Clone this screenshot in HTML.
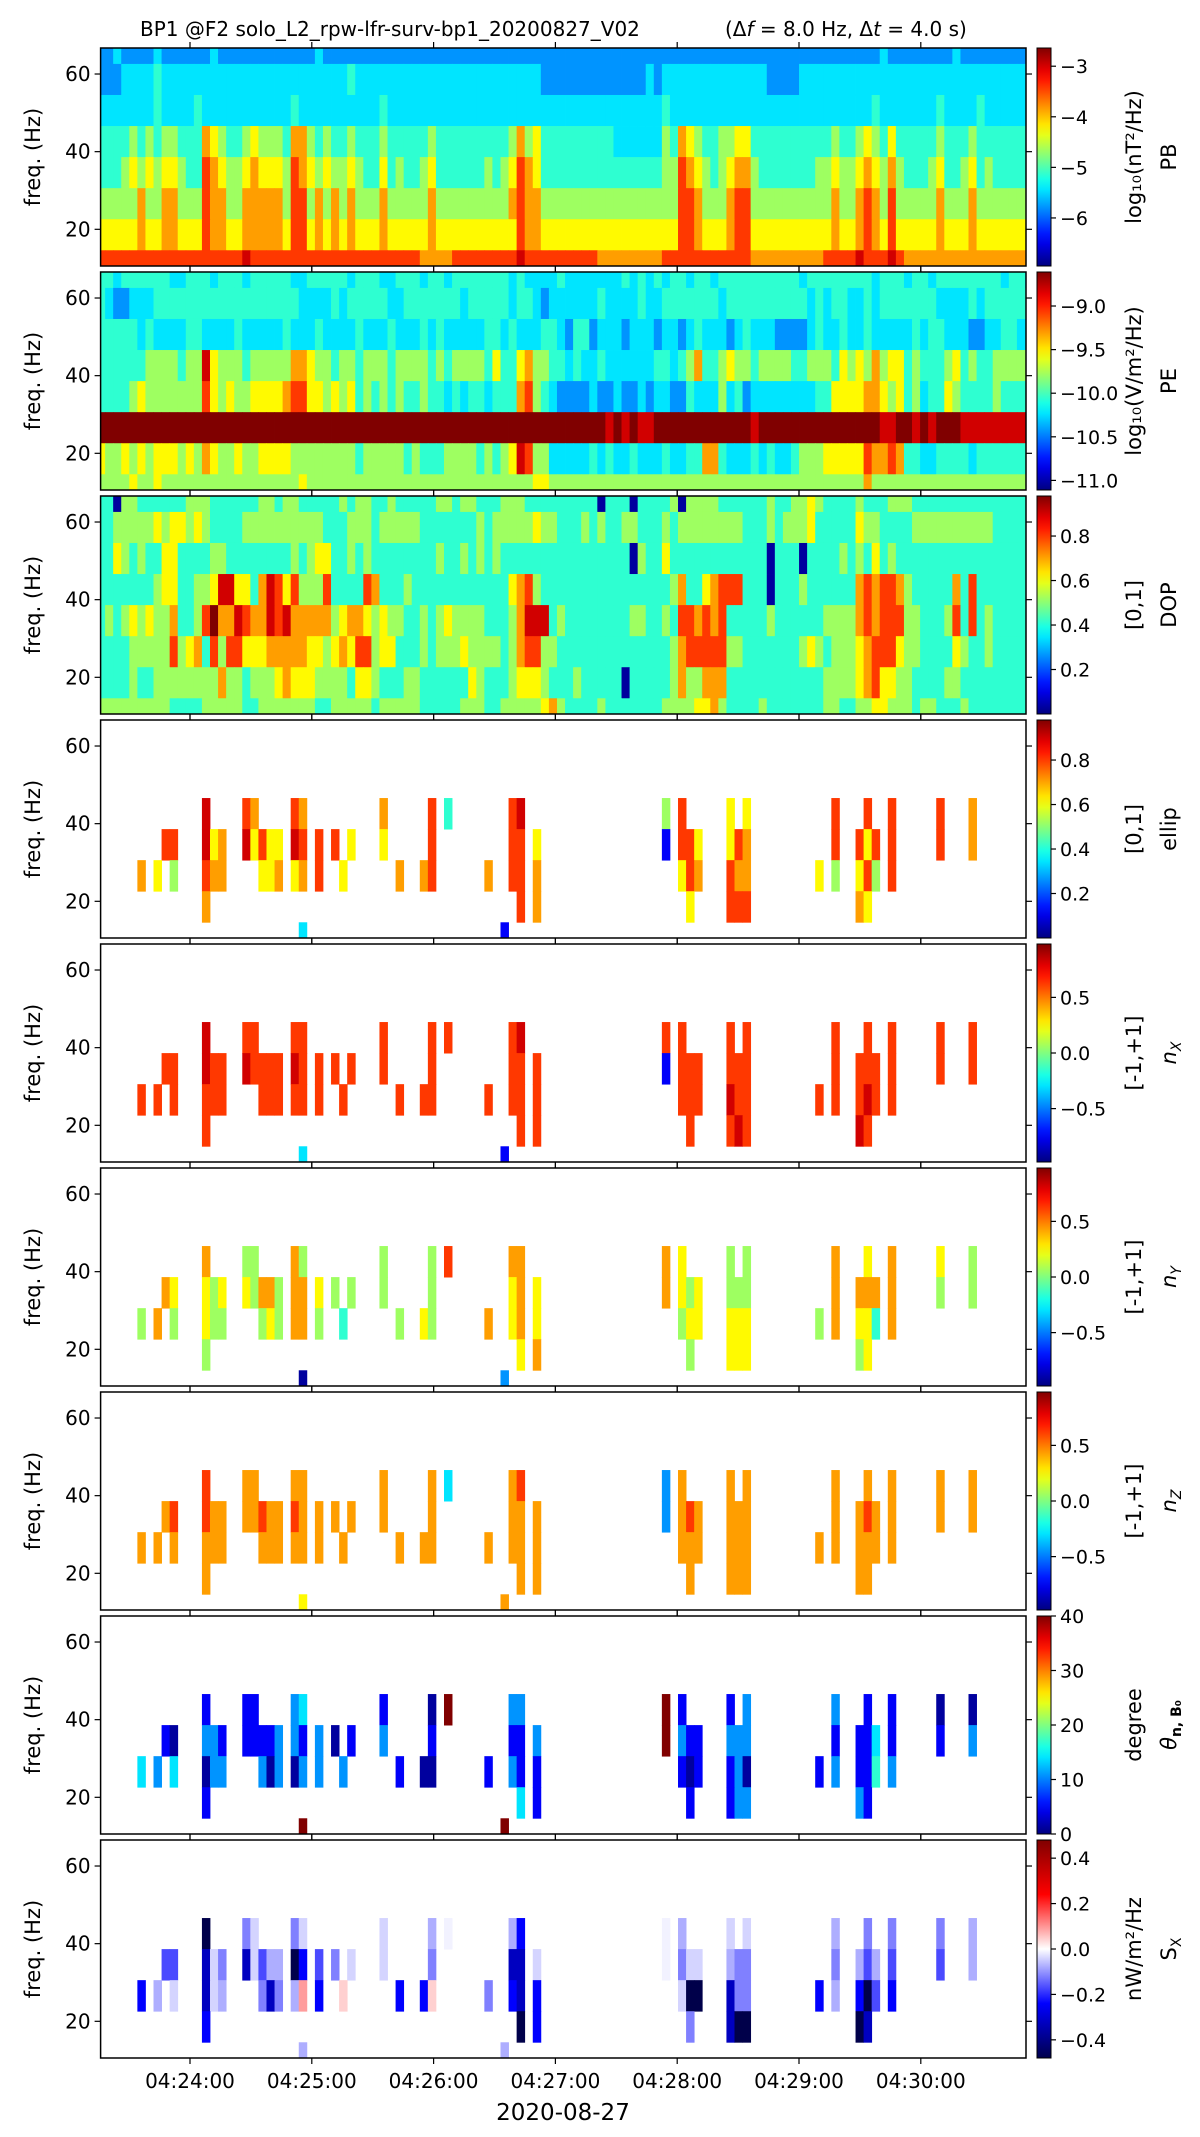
<!DOCTYPE html>
<html><head><meta charset="utf-8">
<style>
html,body{margin:0;padding:0;background:#fff;}
svg{display:block;font-family:"DejaVu Sans","Liberation Sans",sans-serif;}
</style></head>
<body>
<svg id="fig" width="1200" height="2137" viewBox="0 0 1200 2137" xmlns="http://www.w3.org/2000/svg">
<rect x="0" y="0" width="1200" height="2137" fill="#fff"/>
<text x="140" y="36" font-size="20" fill="#000">BP1 @F2 solo_L2_rpw-lfr-surv-bp1_20200827_V02</text>
<text x="725" y="36" font-size="20" fill="#000">(Δ<tspan font-style="italic">f</tspan> = 8.0 Hz, Δ<tspan font-style="italic">t</tspan> = 4.0 s)</text>
<g id="panels"></g>
<text x="563" y="2120" font-size="23" text-anchor="middle">2020-08-27</text>
</svg>
<script>
// ---------- data ----------
const freqEdges = [10.55,14.6,22.6,30.6,38.6,46.6,54.6,62.6,66.7];
const timeTickSeconds = [0,60,120,180,240,300,360];
const timeTickLabels = ["04:24:00","04:25:00","04:26:00","04:27:00","04:28:00","04:29:00","04:30:00"];
const freqTicks = [20,40,60];
const colStartSec = -45.8;
const colDurSec = 3.975;

// rows listed top (highest freq) to bottom; digit = colormap level, '.' = no data
const pbRows = [
"2232222322 2222322222 2222222322 2222222222 2222222222 2222222222 2222222222 2222222222 2222222222 2222222322 2222223222 222222",
"2223333433 3333333333 3333333333 3433333333 3333333333 3333322222 2222222232 3333333333 3332222333 3333333333 3333333333 333333",
"3333333433 3343333333 3333433333 3333343333 3333333333 3333333333 3333333333 4333333333 3333333333 3333334333 3333433334 333333",
"4444545455 4447654456 5554775454 4544454444 4544444444 4575644444 4444333333 5476544556 6444444444 4544565464 4444544454 444444",
"4445656566 5448765567 6665876565 5654464544 5644444454 5687644444 4444444444 5587654567 7544444445 5655676575 4445644564 544444",
"5555575577 5558775577 7775885757 5755575555 5755555555 5787755555 5555555555 5588755578 8555555555 5755787585 5555755575 555555",
"6666676677 6668776677 7776886767 6766676666 6766666666 6687766666 6666666666 6688766678 8666666666 6766787686 6666766676 666666",
"8888888888 8888888898 8888888888 8888888888 7777888888 8898888888 8877777777 8888888888 8777777777 8888988898 7777777777 777777"];
const peRows = [
"4434444443 3444344434 4444334444 4344433444 3443444444 4343333433 3333343434 3443443444 4444444344 4444443444 3443444444 443443",
"4322333444 4444444444 4444433334 3444443344 4444434444 4344323333 3343333433 4444444344 4444444434 3443343444 4444333343 444444",
"4444434333 3443333433 3334333433 3343334333 4343333344 3433344324 4233323332 3323433323 4333222234 3343343333 3434433322 334433",
"4444445555 4559655545 5555776554 5545554555 5454555546 4467554434 3343333334 4345744565 5455554455 5465657566 4544456454 455555",
"4444565555 5558656556 6667886656 5645454544 5443434434 4478543222 2322322323 3224333534 2333333334 4666677656 4534465444 454444",
"XXXXXXXXXX XXXXXXXXXX XXXXXXXXXX XXXXXXXXXX XXXXXXXXXX XXXXXXXXXX XXX9X9X99X XXXXXXXXXX X9XXXXXXXX XXXXXXX99X X9X9XXX999 999999",
"6556565666 5657655655 6666555555 5545555545 4445555454 5698553333 3434334333 4334477433 3434334555 6666687787 4433444434 444444",
"5555655655 5555555555 5555565555 5555555555 5555555555 5555665555 5555555555 5555555555 5555555555 5555575555 5555555555 555555"];
const dopRows = [
"4405544444 4555444444 5545544444 5455445444 4455455444 5554444444 4404440444 4505555444 4445445565 4444544455 5444444444 444444",
"4455555656 6565444455 5555555544 4555455555 4444444545 5555655444 5454455444 5455555555 4445455564 4444655444 4555555555 544444",
"4465454466 4444554444 4444545664 4545444444 4454454545 4444444444 4444440544 6444444444 4440444044 4454546454 4444444444 444444",
"4444444566 4455699664 7986855584 4448744454 4444444444 4678544444 4444444444 4574467888 4440444544 4444787887 5444447484 444444",
"4545656557 4458X77987 7989777775 6776565544 5456555544 4579994544 4444445544 5488787844 4445444444 5555787888 5544458484 544444",
"4444555558 5674858866 6777776656 7688566444 5455565555 4578855444 4444444444 4578888855 4444444565 4555678886 5544446544 544444",
"4444544555 5555575545 5567666555 5466544455 4444446544 4566654445 4444404444 4575577744 4444444444 5555678665 5444455444 444444",
"5555555554 4445555544 5555555445 5555455555 4444455544 5555567544 4454444444 5555667544 4454444444 5544556655 5455444544 444444"];
const ellipRows = ["","","",
".......... ...9....87 ....87.... .....7.... .8.4...... .89....... .......... 5.8.....6. 6......... .8...8..8. ....8...7. ......",
"........88 ...967..96 866.98.8.8 .6...6.... .8........ .88.6..... .......... 1.886...68 7......... .8..868.8. ....8...7. ......",
".....7.6.5 ...877.... 667.67.8.. 6......7.. 78......7. .88.7..... .......... ..687...87 7........6 .5..685.8. .......... ......",
".......... ...7...... .......... .......... .......... ..8.7..... .......... ...6....88 8......... ....76.... .......... ......",
".......... .......... .....3.... .......... .......... 1......... .......... .......... .......... .......... .......... ......"];
const nxRows = ["","","",
".......... ...9....88 ....88.... .....8.... .8.8...... .89....... .......... 8.8.....8. 8......... .8...8..8. ....8...8. ......",
"........88 ...988..98 888.98.8.8 .8...8.... .8........ .88.8..... .......... 1.888...88 8......... .8..888.8. ....8...8. ......",
".....8.8.8 ...888.... 888.88.8.. 8......8.. 88......8. .88.8..... .......... ..888...98 8........8 .8..898.8. .......... ......",
".......... ...8...... .......... .......... .......... ..8.8..... .......... ...8....89 8......... ....98.... .......... ......",
".......... .......... .....3.... .......... .......... 1......... .......... .......... .......... .......... .......... ......"];
const nyRows = ["","","",
".......... ...7....55 ....75.... .....5.... .5.8...... .77....... .......... 7.6.....5. 5......... .7...6..7. ....6...5. ......",
"........76 ...656..65 775.77.6.5 .5...5.... .5........ .67.6..... .......... 7.656...55 5......... .7..777.7. ....5...5. ......",
".....5.7.5 ...655.... 565.77.5.. 4......5.. 65......7. .67.6..... .......... ..566...66 6........5 .7..664.7. .......... ......",
".......... ...5...... .......... .......... .......... ..6.7..... .......... ...5....66 6......... ....56.... .......... ......",
".......... .......... .....0.... .......... .......... 2......... .......... .......... .......... .......... .......... ......"];
const nzRows = ["","","",
".......... ...8....77 ....77.... .....7.... .7.3...... .78....... .......... 2.7.....7. 7......... .7...7..7. ....7...7. ......",
"........78 ...877..77 877.87.7.7 .7...7.... .7........ .77.7..... .......... 2.787...77 7......... .7..787.7. ....7...7. ......",
".....7.7.7 ...777.... 777.77.7.. 7......7.. 77......7. .77.7..... .......... ..777...77 7........7 .7..777.7. .......... ......",
".......... ...7...... .......... .......... .......... ..7.7..... .......... ...7....77 7......... ....77.... .......... ......",
".......... .......... .....6.... .......... .......... 7......... .......... .......... .......... .......... .......... ......"];
const thetaRows = ["","","",
".......... ...1....11 ....23.... .....1.... .0.X...... .22....... .......... X.1.....1. 2......... .2...1..1. ....0...0. ......",
"........10 ...221..11 112.21.2.0 .1...2.... .1........ .11.2..... .......... X.211...22 2......... .1..113.1. ....1...2. ......",
".....3.2.3 ...022.... 202.02.2.. 2......1.. 00......1. .21.1..... .......... ..101...12 0........1 .2..114.2. .......... ......",
".......... ...1...... .......... .......... .......... ..3.1..... .......... ...1....12 2......... ....21.... .......... ......",
".......... .......... .....X.... .......... .......... X......... .......... .......... .......... .......... .......... ......"];
const sxRows = ["","","",
".......... ...0....46 ....46.... .....6.... .5.7...... .52....... .......... 7.5.....6. 6......... .5...4..4. ....4...5. ......",
"........33 ...164..16 355.02.3.4 .6...6.... .4........ .11.6..... .......... 7.466...54 4......... .4..535.3. ....3...5. ......",
".....2.5.6 ...165.... 414.59.2.. 8......2.. 28......4. .21.2..... .......... ..600...14 4........2 .5..203.2. .......... ......",
".......... ...2...... .......... .......... .......... ..0.2..... .......... ...4....10 0......... ....01.... .......... ......",
".......... .......... .....5.... .......... .......... 5......... .......... .......... .......... .......... .......... ......"];

const pbTicks = [-6,-5,-4,-3];
const peTicks = [-11.0,-10.5,-10.0,-9.5,-9.0];
const unitTicks = [0.2,0.4,0.6,0.8];
const signedTicks = [-0.5,0.0,0.5];
const thetaTicks = [0,10,20,30,40];
const sxTicks = [-0.4,-0.2,0.0,0.2,0.4];

// ---------- layout ----------
const NS = "http://www.w3.org/2000/svg";
const plotL = 100.6, plotR = 1026, panelH = 218, panelPitch = 224, panelTop0 = 48;
const fTop = 66.7, fBot = 10.55;
const xTick0 = 190, pxPerSec = 2.03;
const cbX = 1037, cbW = 14;
const levelPos = [0.03,0.12,0.27,0.35,0.42,0.53,0.63,0.72,0.82,0.92];
const sxPalette = ['#00004a','#0000c0','#0000ff','#4a4aff','#8080ff','#aeaeff','#d4d4ff','#f2f2ff','#ffd0d0','#ff9c9c'];

function xOf(sec){ return xTick0 + sec*pxPerSec; }
function yOf(f, top){ return top + (fTop - f)/(fTop - fBot)*panelH; }
function clamp(v){ return Math.max(0, Math.min(1, v)); }
function jet(v){
  const r = clamp(1.5 - Math.abs(4*v-3)), g = clamp(1.5 - Math.abs(4*v-2)), b = clamp(1.5 - Math.abs(4*v-1));
  return 'rgb(' + Math.round(r*255) + ',' + Math.round(g*255) + ',' + Math.round(b*255) + ')';
}
function levelColor(ch, cmap){
  if (cmap === 'seismic') return sxPalette[parseInt(ch,10)];
  const v = ch === 'X' ? 1.0 : levelPos[parseInt(ch,10)];
  return jet(v);
}
function mk(tag, attrs, parent){
  const e = document.createElementNS(NS, tag);
  for (const k in attrs) e.setAttribute(k, attrs[k]);
  if (parent) parent.appendChild(e);
  return e;
}
function fmt(v, dec){
  const s = Math.abs(v).toFixed(dec);
  return (v < 0 ? '\u2212' : '') + s;
}

const panels = [
  {key:'pb', rows:pbRows, cmap:'jet', range:[-6.95,-2.64], ticks:pbTicks, dec:0, lab1:'log\u2081\u2080(nT\u00b2/Hz)', lab2:'PB'},
  {key:'pe', rows:peRows, cmap:'jet', range:[-11.11,-8.61], ticks:peTicks, dec:1, lab1:'log\u2081\u2080(V/m\u00b2/Hz)', lab2:'PE'},
  {key:'dop', rows:dopRows, cmap:'jet', range:[0.0,0.98], ticks:unitTicks, dec:1, lab1:'[0,1]', lab2:'DOP'},
  {key:'ellip', rows:ellipRows, cmap:'jet', range:[0.0,0.98], ticks:unitTicks, dec:1, lab1:'[0,1]', lab2:'ellip'},
  {key:'nx', rows:nxRows, cmap:'jet', range:[-0.98,0.98], ticks:signedTicks, dec:1, lab1:'[-1,+1]', lab2:'n', sub:'X'},
  {key:'ny', rows:nyRows, cmap:'jet', range:[-0.98,0.98], ticks:signedTicks, dec:1, lab1:'[-1,+1]', lab2:'n', sub:'Y'},
  {key:'nz', rows:nzRows, cmap:'jet', range:[-0.98,0.98], ticks:signedTicks, dec:1, lab1:'[-1,+1]', lab2:'n', sub:'Z'},
  {key:'theta', rows:thetaRows, cmap:'jet', range:[0,40], ticks:thetaTicks, dec:0, lab1:'degree', lab2:'\u03b8', sub:'n, B\u2080', subBold:true},
  {key:'sx', rows:sxRows, cmap:'seismic', range:[-0.48,0.48], ticks:sxTicks, dec:1, lab1:'nW/m\u00b2/Hz', lab2:'S', sub:'X'}
];

const root = document.getElementById('panels');
const defs = mk('defs', {}, root);

const jg = mk('linearGradient', {id:'jetGrad', x1:'0', y1:'1', x2:'0', y2:'0'}, defs);
for (let i=0;i<=20;i++){ const v=i/20; mk('stop', {offset:v, 'stop-color':jet(v)}, jg); }
const sg = mk('linearGradient', {id:'seisGrad', x1:'0', y1:'1', x2:'0', y2:'0'}, defs);
[['0','#00004c'],['0.25','#0000ff'],['0.5','#ffffff'],['0.75','#ff0000'],['1','#800000']].forEach(s=>mk('stop',{offset:s[0],'stop-color':s[1]},sg));

panels.forEach((p, i) => {
  const top = panelTop0 + i*panelPitch;
  const g = mk('g', {}, root);
  
  
  const cp = mk('clipPath', {id:'clip'+i}, defs);
  mk('rect', {x:plotL, y:top, width:plotR-plotL, height:panelH}, cp);
  const cells = mk('g', {'clip-path':'url(#clip'+i+')'}, g);
  
  
  const nR = freqEdges.length - 1;
  p.rows.forEach((raw, si) => {
    const s = raw.replace(/ /g,'');
    const r = nR - 1 - si;
    const y0 = yOf(freqEdges[r+1], top), y1 = yOf(freqEdges[r], top);
    for (let c=0;c<s.length;c++){
      const ch = s[c];
      if (ch === '.' ) continue;
      const x0 = xOf(colStartSec + c*colDurSec), x1 = xOf(colStartSec + (c+1)*colDurSec);
      const rc = mk('rect', {x:x0.toFixed(2), y:y0.toFixed(2), width:(x1-x0+0.4).toFixed(2), height:(y1-y0+0.4).toFixed(2), fill:levelColor(ch,p.cmap)}, cells);
      
      
    }
  });
  const fr = mk('rect', {x:plotL, y:top, width:plotR-plotL, height:panelH, fill:'none', stroke:'#000', 'stroke-width':1.5}, g);
  
  
  timeTickSeconds.forEach((t, k) => {
    const x = xOf(t);
    mk('line', {x1:x, y1:top+panelH, x2:x, y2:top+panelH+6, stroke:'#000', 'stroke-width':1.2}, g);
    mk('line', {x1:x, y1:top, x2:x, y2:top-6, stroke:'#000', 'stroke-width':1.2}, g);
    if (i === panels.length-1){
      const tl = mk('text', {x:x, y:top+panelH+30, 'font-size':20, 'text-anchor':'middle'}, g);
      tl.textContent = timeTickLabels[k];
      
      
    }
  });
  freqTicks.forEach(f => {
    const y = yOf(f, top);
    mk('line', {x1:plotL-6, y1:y, x2:plotL, y2:y, stroke:'#000', 'stroke-width':1.2}, g);
    mk('line', {x1:plotR, y1:y, x2:plotR+6, y2:y, stroke:'#000', 'stroke-width':1.2}, g);
    const yl = mk('text', {x:plotL-10, y:y+7, 'font-size':20, 'text-anchor':'end'}, g);
    yl.textContent = String(f);
    
    
  });
  const ya = mk('text', {x:0, y:0, 'font-size':21, 'text-anchor':'middle', transform:'translate(40,'+(top+panelH/2)+') rotate(-90)'}, g);
  ya.textContent = 'freq. (Hz)';
  
  
  const cb = mk('rect', {x:cbX, y:top, width:cbW, height:panelH, fill:p.cmap==='seismic'?'url(#seisGrad)':'url(#jetGrad)', stroke:'#000', 'stroke-width':1}, g);
  
  
  p.ticks.forEach(tv => {
    const y = top + (p.range[1]-tv)/(p.range[1]-p.range[0])*panelH;
    mk('line', {x1:cbX+cbW, y1:y, x2:cbX+cbW+5, y2:y, stroke:'#000', 'stroke-width':1.2}, g);
    const t = mk('text', {x:cbX+cbW+9, y:y+7, 'font-size':19}, g);
    t.textContent = fmt(tv, p.dec);
    
    
  });
  const cy = top + panelH/2;
  const l1 = mk('text', {x:0, y:0, 'font-size':21, 'text-anchor':'middle', transform:'translate(1141,'+cy+') rotate(-90)'}, g);
  l1.textContent = p.lab1;
  
  
  const l2 = mk('text', {x:0, y:0, 'font-size':21, 'text-anchor':'middle', transform:'translate(1176,'+cy+') rotate(-90)'}, g);
  
  
  if (p.sub){
    const a = mk('tspan', {'font-style': p.key==='sx' ? 'normal' : 'italic'}, l2); a.textContent = p.lab2;
    const b = mk('tspan', {'font-size':14, dy:5, 'font-style': p.key==='sx'||p.key==='theta' ? 'normal':'italic', 'font-weight': p.subBold?'bold':'normal'}, l2); b.textContent = p.sub;
  } else {
    l2.textContent = p.lab2;
  }
});
</script>
</body></html>
